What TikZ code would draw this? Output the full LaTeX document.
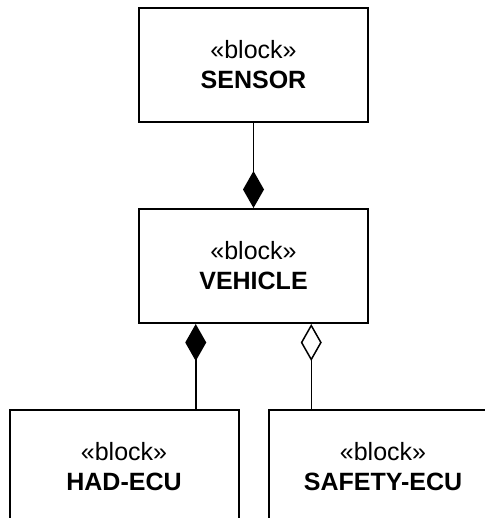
\documentclass[tikz,border=0pt]{standalone}
\usepackage{fontspec}
\setmainfont{Liberation Sans}
\usetikzlibrary{positioning,arrows.meta,calc}

\begin{document}
\begin{tikzpicture}
			\tikzset{blockbox/.style={draw, line width=1pt, minimum width=114.5pt, minimum height=57pt, align=center, font=\fontsize{12.5}{15}\selectfont, inner sep=0pt}}
			\tikzset{comp/.style={line width=0.75pt, -{Diamond[length=18.5pt, width=10.5pt]}}}
			\tikzset{aggr/.style={line width=0.75pt, -{Diamond[open, fill=white, length=18.5pt, width=10.5pt]}}}
			%\tikzset{every node/.style={draw=red}}
			\path[use as bounding box, clip] (0,0) rectangle (242.5pt,-259pt);
			\node[blockbox] (sensor) at (126.75pt,-32.5pt) {«block»\\\textbf{SENSOR}};
			\node[blockbox, below=42.5pt of sensor] (vehicle) {«block»\\\textbf{VEHICLE}};
			\node[blockbox, below left=42.5pt and 7pt of vehicle.south] (had) {«block»\\\textbf{HAD-ECU}};
			\node[blockbox, below right=42.5pt and 7pt of vehicle.south] (safety) {«block»\\\textbf{SAFETY-ECU}};
			\coordinate (vehL) at ($(vehicle.south west)!0.25!(vehicle.south east)$);
			\coordinate (vehR) at ($(vehicle.south west)!0.75!(vehicle.south east)$);
			\draw[comp] (sensor) -- (vehicle);
			\draw[comp] (had.north -| vehL) -- (vehL);
			\draw[aggr] (safety.north -| vehR) -- (vehR);
\end{tikzpicture}
\end{document}
